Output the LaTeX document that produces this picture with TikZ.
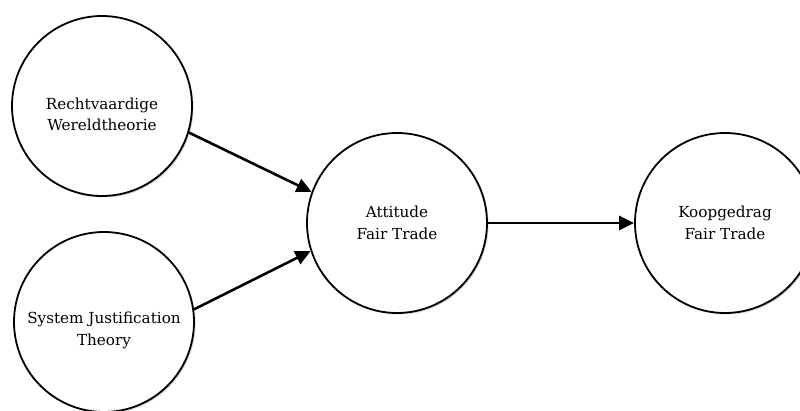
\documentclass[tikz,border=0pt]{standalone}
\usepackage{fontspec}
\setmainfont{DejaVu Serif}
\usetikzlibrary{arrows.meta,shadows}
\tikzset{
  concept/.style={circle, draw=black, line width=1.8pt, fill=white,
    minimum size=180pt, inner sep=0pt, align=center,
    font=\fontsize{15.2}{21.5}\selectfont,
    drop shadow={shadow xshift=1.5pt, shadow yshift=-1.5pt, opacity=0.35, fill=gray}},
  link/.style={line width=2.6pt, -{Triangle[length=15pt,width=14pt]}}
}
\begin{document}
\begin{tikzpicture}[x=1pt,y=-1pt]
\useasboundingbox (0,0) rectangle (800,411);
\node[concept] (rw) at (102,106) {\strut\\[-8pt]Rechtvaardige\\Wereldtheorie};
\node[concept] (sj) at (104,322) {\strut\\[-8pt]System Justification\\Theory};
\node[concept] (at) at (397,223) {Attitude\\Fair Trade};
\node[concept] (kg) at (725,223) {Koopgedrag\\Fair Trade};
\draw[link] (rw.-17) -- (at.160);
\draw[link] (sj.8) -- (at.198);
\draw[link] (at.east) -- (kg.west);
\end{tikzpicture}
\end{document}
